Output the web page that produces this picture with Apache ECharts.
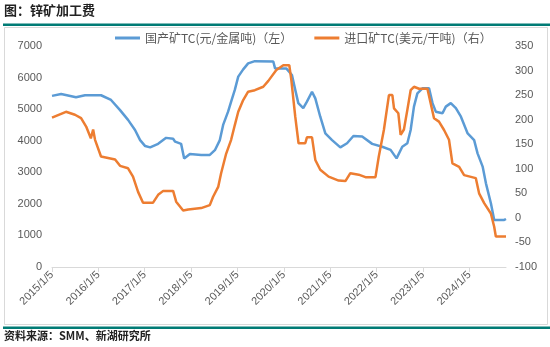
<!DOCTYPE html>
<html>
<head>
<meta charset="utf-8">
<script src="https://cdn.jsdelivr.net/npm/echarts@6/dist/echarts.min.js"></script>
<style>
html,body{margin:0;padding:0;background:#fff;}
#c{width:550px;height:347px;}
</style>
</head>
<body>
<div id="c"></div>
<script>
// ---- data ----
const domesticName = '国产矿TC(元/金属吨)（左）';
const importName = '进口矿TC(美元/干吨)（右）';

const domesticDates = ['2015-01-05','2015-03-18','2015-07-13','2015-09-22','2016-01-26','2016-04-14','2016-06-24','2016-08-26','2016-10-20','2016-11-29','2017-01-08','2017-02-16','2017-04-20','2017-06-22','2017-08-16','2017-09-01','2017-10-18','2017-11-11','2017-12-26','2018-03-25','2018-06-01','2018-07-11','2018-08-19','2018-09-14','2018-10-23','2018-11-16','2018-12-15','2019-01-11','2019-02-19','2019-03-30','2019-05-22','2019-10-14','2019-10-28','2020-01-24','2020-03-09','2020-04-04','2020-04-28','2020-06-06','2020-07-05','2020-08-14','2020-09-09','2020-10-18','2020-11-27','2021-01-19','2021-03-25','2021-05-17','2021-07-06','2021-09-13','2021-12-01','2022-02-18','2022-04-25','2022-06-11','2022-07-26','2022-09-04','2022-09-30','2022-10-26','2022-11-22','2023-01-01','2023-02-22','2023-03-21','2023-04-16','2023-06-08','2023-07-04','2023-08-12','2023-09-21','2023-10-31','2023-12-23','2024-02-12','2024-03-10','2024-04-19','2024-05-15','2024-06-23','2024-07-19','2024-10-06','2024-10-20'];
const domesticValues = [5420,5480,5375,5440,5440,5290,4970,4660,4340,4020,3830,3790,3900,4090,4060,3970,3900,3440,3580,3550,3550,3700,4020,4500,4920,5240,5610,6030,6260,6450,6520,6510,6290,6290,6080,5610,5190,5030,5240,5550,5340,4760,4230,4020,3790,3920,4150,4130,3900,3810,3710,3440,3810,3920,4340,5080,5500,5660,5660,5190,4920,4870,5080,5190,5030,4760,4230,4020,3600,3180,2650,2020,1490,1490,1520];

const importDates = ['2015-01-05','2015-04-25','2015-07-05','2015-08-22','2015-10-01','2015-11-07','2015-11-25','2015-12-10','2016-01-26','2016-05-16','2016-06-24','2016-08-26','2016-10-04','2016-11-13','2016-12-22','2017-03-11','2017-04-20','2017-05-30','2017-08-16','2017-09-09','2017-11-03','2017-12-13','2018-03-25','2018-06-01','2018-06-27','2018-08-06','2018-08-29','2018-10-08','2018-11-16','2018-12-15','2019-01-11','2019-02-19','2019-03-30','2019-05-22','2019-07-27','2019-09-05','2019-11-07','2020-01-01','2020-02-17','2020-03-04','2020-04-04','2020-04-30','2020-06-22','2020-07-05','2020-08-14','2020-09-09','2020-10-18','2020-12-23','2021-03-12','2021-05-04','2021-06-12','2021-08-17','2021-10-09','2021-12-27','2022-01-22','2022-03-03','2022-04-12','2022-05-09','2022-05-22','2022-06-25','2022-07-13','2022-08-08','2022-09-04','2022-09-30','2022-10-26','2022-12-05','2023-02-09','2023-03-07','2023-04-02','2023-05-11','2023-06-20','2023-07-29','2023-08-25','2023-10-17','2023-11-25','2024-02-25','2024-03-22','2024-05-01','2024-06-23','2024-07-19','2024-08-01','2024-10-20'];
const importValues = [204,216,210,203,186,162,180,159,125,119,106,101,84,53,31,31,47,55,55,33,15,17,20,26,43,63,91,131,159,189,216,240,257,260,267,279,301,311,311,281,206,152,152,164,164,118,98,84,76,75,91,88,83,83,125,179,250,250,223,213,169,180,220,260,267,263,263,233,203,196,179,159,111,104,87,81,50,30,9,-18,-38,-38];

const startDate = '2015-01-05';
const endDate = '2024-10-20';

// ---- helpers ----
function toUTC(s){ const p = s.split('-').map(Number); return Date.UTC(p[0], p[1]-1, p[2]); }
const base = toUTC(startDate);
function dayOffset(s){ return (toUTC(s) - base) / 86400000; }
function fmtDay(v){
  const d = new Date(base + Math.round(v) * 86400000);
  return d.getUTCFullYear() + '/' + (d.getUTCMonth()+1) + '/' + d.getUTCDate();
}
const yearDays = 365.25;
const maxDay = dayOffset(endDate);

const domesticData = domesticDates.map((d,i)=>[dayOffset(d), domesticValues[i]]);
const importData = importDates.map((d,i)=>[dayOffset(d), importValues[i]]);

const chart = echarts.init(document.getElementById('c'), null, {renderer:'canvas'});
const labelColor = '#595959';
const teal = '#007B75';

chart.setOption({
  animation:false,
  backgroundColor:'#fff',
  textStyle:{fontFamily:'"Noto Sans CJK SC", "Liberation Sans", sans-serif'},
  graphic:[
    {type:'text', left:4, top:4, style:{text:'图：锌矿加工费', fontSize:13, fontWeight:'bold', fill:'#222', fontFamily:'"Noto Sans CJK SC", sans-serif'}},
    {type:'rect', shape:{x:3, y:23.5, width:547, height:2.5}, style:{fill:teal}},
    {type:'rect', shape:{x:4.5, y:27.5, width:543, height:297}, style:{fill:'none', stroke:'#D9D9D9', lineWidth:1}},
    {type:'rect', shape:{x:3, y:326.5, width:547, height:2.5}, style:{fill:teal}},
    {type:'text', left:4, top:330, style:{text:'资料来源：SMM、新湖研究所', fontSize:11, fontWeight:'bold', fill:'#222', fontFamily:'"Noto Sans CJK SC", sans-serif'}}
  ],
  legend:{
    top:27, left:110,
    itemGap:22,
    itemWidth:25, itemHeight:3,
    icon:'rect',
    textStyle:{color:labelColor, fontSize:12, fontFamily:'"Noto Sans CJK SC", sans-serif'},
    data:[domesticName, importName]
  },
  grid:{left:52, right:44, top:46, bottom:80, containLabel:false},
  xAxis:{
    type:'value',
    min:0, max:maxDay, interval:yearDays,
    axisLine:{show:true, lineStyle:{color:'#D9D9D9', width:1}},
    axisTick:{show:true, length:5, lineStyle:{color:'#D9D9D9'}},
    splitLine:{show:false},
    axisLabel:{
      rotate:45, color:labelColor, fontSize:11, margin:6, showMaxLabel:false,
      fontFamily:'"Liberation Sans", Arial, sans-serif',
      formatter:function(v){ return fmtDay(v); }
    }
  },
  yAxis:[
    {type:'value', min:0, max:7000, interval:1000, position:'left',
     axisLine:{show:false}, axisTick:{show:false}, splitLine:{show:false},
     axisLabel:{color:labelColor, fontSize:11, margin:10, fontFamily:'"Liberation Sans", Arial, sans-serif',
       formatter:function(v){ return String(v); }}},
    {type:'value', min:-100, max:350, interval:50, position:'right',
     axisLine:{show:false}, axisTick:{show:false}, splitLine:{show:false},
     axisLabel:{color:labelColor, fontSize:11, margin:9, fontFamily:'"Liberation Sans", Arial, sans-serif',
       formatter:function(v){ return String(v); }}}
  ],
  series:[
    {name:domesticName, type:'line', yAxisIndex:0, data:domesticData, showSymbol:false,
     lineStyle:{color:'#5B9BD5', width:2.5}, itemStyle:{color:'#5B9BD5'}},
    {name:importName, type:'line', yAxisIndex:1, data:importData, showSymbol:false,
     lineStyle:{color:'#ED7D31', width:2.5}, itemStyle:{color:'#ED7D31'}}
  ]
});
</script>
</body>
</html>
